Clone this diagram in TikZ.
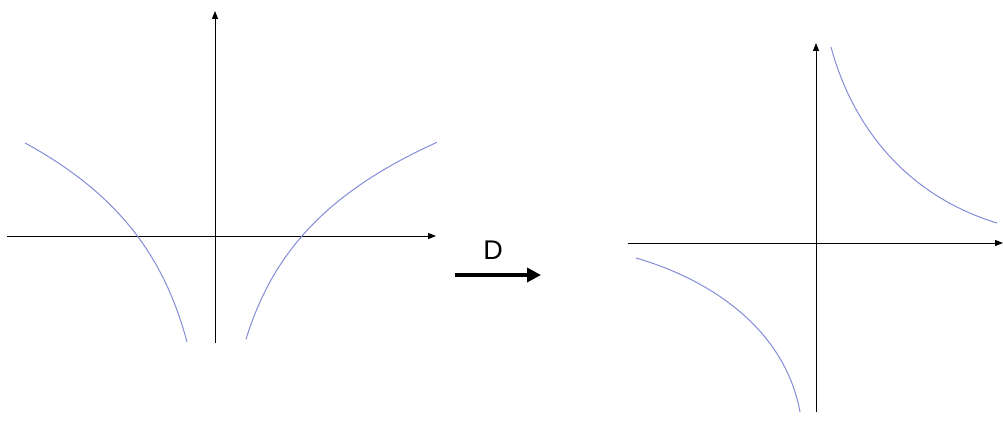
\documentclass[tikz,border=0pt]{standalone}
\usepackage{fontspec}
\setmainfont{Liberation Sans}
\usetikzlibrary{arrows.meta}
\definecolor{curveblue}{RGB}{130,140,215}
\tikzset{
  axis/.style={line width=1pt, black, -{Triangle[length=8pt,width=6pt]}},
  curve/.style={line width=1pt, curveblue},
  bigarrow/.style={line width=4.5pt, black, -{Triangle[length=14pt,width=14pt]}, shorten >=0pt},
  lbl/.style={font=\fontsize{27}{30}\selectfont, inner sep=0pt}
}
\begin{document}
\begin{tikzpicture}[x=1pt,y=-1pt]
\useasboundingbox (0,0) rectangle (1003,420);
% left plot axes
\coordinate (lxs) at (7,236);
\coordinate (lxe) at (436,236);
\coordinate (lys) at (215,343);
\coordinate (lye) at (215,11);
\draw[axis] (lxs) -- (lxe);
\draw[axis] (lys) -- (lye);
% left curves (ln|x|)
\draw[curve] plot[domain=28:190, samples=80, smooth] ({215-\x},{236-103.9*ln(\x/77.6)});
\draw[curve] plot[domain=31:222, samples=80, smooth] ({215+\x},{236-100*ln(\x/87)});
% operator arrow
\coordinate (as) at (455,275);
\coordinate (ae) at (541,275);
\draw[bigarrow] (as) -- (ae);
\node[lbl] (D) at (493,250) {D};
% right plot axes
\coordinate (rxs) at (628,243);
\coordinate (rxe) at (1003,243);
\coordinate (rys) at (816,412);
\coordinate (rye) at (816,43);
\draw[axis] (rxs) -- (rxe);
\draw[axis] (rys) -- (rye);
% right curves
\coordinate (ua) at (831,47);
\coordinate (ub) at (997,223);
\coordinate (la) at (636,258);
\coordinate (lb) at (800,412);
\draw[curve] (ua) .. controls (852,125) and (905,195) .. (ub);
\draw[curve] (la) .. controls (712,280) and (785,330) .. (lb);
\end{tikzpicture}
\end{document}
